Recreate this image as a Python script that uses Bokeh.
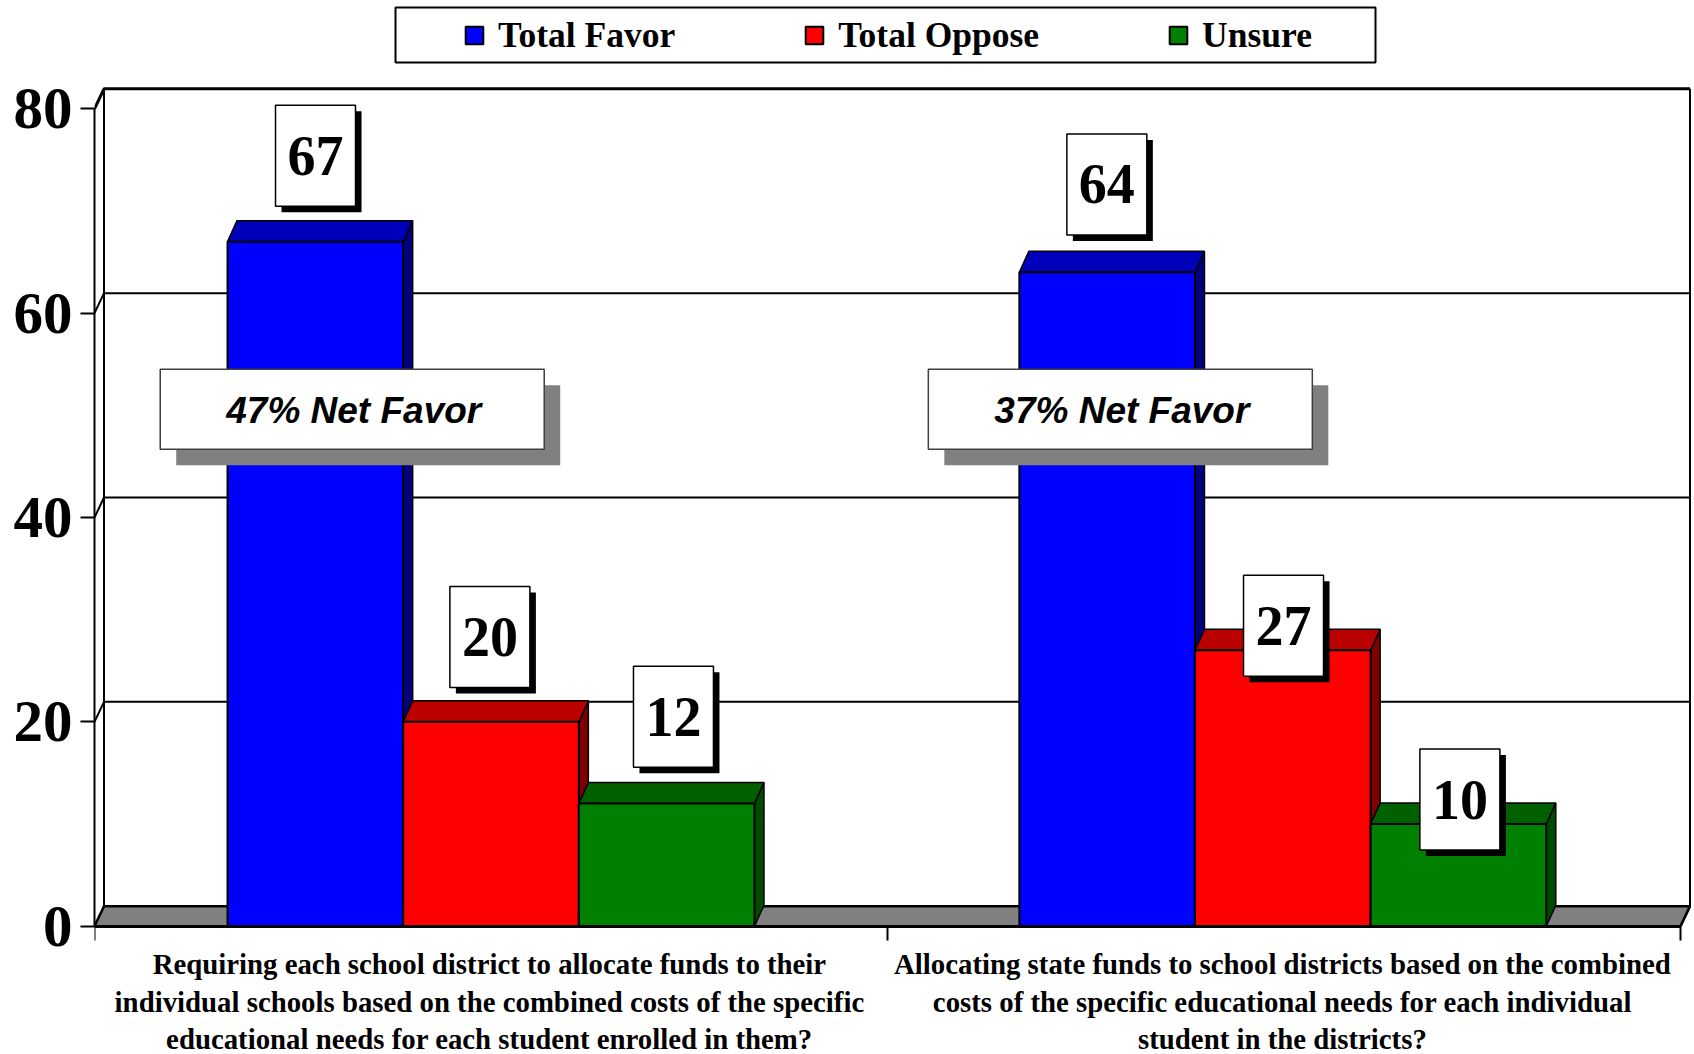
from bokeh.plotting import figure
from bokeh.models import Range1d, FixedTicker, Legend, LegendItem
from bokeh.core.properties import value
from bokeh.embed import file_html
from bokeh.resources import INLINE

# ---- data ----
series_names = ["Total Favor", "Total Oppose", "Unsure"]
total_favor = [67, 64]
total_oppose = [20, 27]
unsure = [12, 10]
y_ticks = [0, 20, 40, 60, 80]
group_centers = [0.5, 1.4985]
category_centers = [0.498, 1.498]
category_lines = [
    ["Requiring each school district to allocate funds to their",
     "individual schools based on the combined costs of the specific",
     "educational needs for each student enrolled in them?"],
    ["Allocating state funds to school districts based on the combined",
     "costs of the specific educational needs for each individual",
     "student in the districts?"],
]
net_labels = ["47% Net Favor", "37% Net Favor"]
value_labels = ["67", "20", "12", "64", "27", "10"]
# label box centres, in axis units
label_x = [0.2787, 0.4986, 0.7301, 1.2766, 1.4994, 1.7218]
label_y = [75.4, 28.3, 20.5, 72.6, 29.4, 12.4]
net_x = [0.325, 1.2936]
net_y = [50.6, 50.6]
net_text_x = [0.3269, 1.2955]

# ---- layout ----
W, H = 1694, 1054
LEFT = 94
PX_X = 793             # pixels per category
PX_Y = 10.2175         # pixels per value unit
ZERO_Y = 925.7         # zero line, figure pixels
dx = 9.5 / PX_X
dy = 20 / PX_Y
bar_dx = 9.5 / PX_X
bar_dy = 21 / PX_Y
bw = 0.2215
sx = 1 / PX_X
sy = 1 / PX_Y

p = figure(width=W, height=H, output_backend="svg", toolbar_location=None,
           x_range=Range1d(0, (W - LEFT) / PX_X),
           y_range=Range1d(-(H - ZERO_Y) / PX_Y, ZERO_Y / PX_Y),
           min_border_left=LEFT, min_border_right=0, min_border_top=0, min_border_bottom=0,
           outline_line_color=None, background_fill_color="white", border_fill_color="white")
p.grid.visible = False

# axes
ya = p.yaxis[0]
ya.ticker = FixedTicker(ticks=y_ticks)
ya.bounds = (0, 80)
ya.axis_line_color = "black"
ya.axis_line_width = 2
ya.major_tick_line_color = "black"
ya.major_tick_line_width = 2
ya.major_tick_out = 14
ya.major_tick_in = 0
ya.minor_tick_line_color = None
ya.major_label_standoff = 8
ya.major_label_text_font = "Liberation Serif"
ya.major_label_text_font_style = "bold"
ya.major_label_text_font_size = "59px"
ya.major_label_text_color = "black"

xa = p.xaxis[0]
xa.ticker = FixedTicker(ticks=[0, 1, 2])
xa.fixed_location = 0
xa.bounds = (0, 2)
xa.axis_line_color = "black"
xa.axis_line_width = 3
xa.major_tick_line_color = "black"
xa.major_tick_line_width = 2
xa.major_tick_out = 14
xa.major_tick_in = 0
xa.minor_tick_line_color = None
xa.major_label_text_color = None
xa.major_label_text_font_size = "1px"

# walls
p.patch([0, dx, 2 + dx, 2], [0, dy, dy, 0], fill_color="#808080", line_color="black", line_width=2.5)
for t in y_ticks[1:]:
    lw = 3 if t == 80 else 2
    p.line([0, dx, 2 + dx], [t, t + dy, t + dy], line_color="black", line_width=lw)
p.line([dx, dx], [dy, 80 + dy], line_color="black", line_width=2)
p.line([2 + dx, 2 + dx], [dy, 80 + dy], line_color="black", line_width=2)
p.line([2, 2 + dx], [0, dy], line_color="black", line_width=2)

# 3-D bars
styles = [("#0000FF", "#0000BB", "#00007F"),
          ("#FF0000", "#BB0000", "#7F0000"),
          ("#008000", "#006000", "#004D00")]
legend_items = []
for i, (name, vals, (front, top, side)) in enumerate(zip(series_names, [total_favor, total_oppose, unsure], styles)):
    xc = [c + (i - 1) * bw for c in group_centers]
    p.patches([[x + bw / 2, x + bw / 2 + bar_dx, x + bw / 2 + bar_dx, x + bw / 2] for x in xc],
              [[0, bar_dy, v + bar_dy, v] for v in vals], fill_color=side, line_color="black", line_width=1.5)
    p.patches([[x - bw / 2, x - bw / 2 + bar_dx, x + bw / 2 + bar_dx, x + bw / 2] for x in xc],
              [[v, v + bar_dy, v + bar_dy, v] for v in vals], fill_color=top, line_color="black", line_width=1.5)
    r = p.vbar(x=xc, top=vals, bottom=0, width=bw, fill_color=front, line_color="black", line_width=2)
    legend_items.append(LegendItem(label=name, renderers=[r]))

# net-favor call-outs
NW, NH = 384, 80
p.rect([x + 16 * sx for x in net_x], [y - 16 * sy for y in net_y], width=NW, height=NH,
       width_units="screen", height_units="screen", fill_color="#808080", line_color=None)
p.rect(net_x, net_y, width=NW, height=NH, width_units="screen", height_units="screen",
       fill_color="white", line_color="#404040", line_width=1.5)
p.text(net_text_x, net_y, text=net_labels, text_font=value("Liberation Sans"), text_font_style="bold italic",
       text_font_size="37px", text_align="center", text_baseline="alphabetic", y_offset=1, text_color="black")

# value call-outs
BW, BH = 80, 101
p.rect([x + 6 * sx for x in label_x], [y - 6 * sy for y in label_y], width=BW, height=BH,
       width_units="screen", height_units="screen", fill_color="black", line_color=None)
p.rect(label_x, label_y, width=BW, height=BH, width_units="screen", height_units="screen",
       fill_color="white", line_color="black", line_width=1.5)
p.text(label_x, label_y, text=value_labels, text_font=value("Liberation Serif"), text_font_style="bold",
       text_font_size="56px", text_align="center", text_baseline="alphabetic", y_offset=0, text_color="black")

# category labels
for c, lines in zip(category_centers, category_lines):
    for line, off in zip(lines, [38, 75.7, 112.7]):
        p.text([c], [0], text=[line], text_font=value("Liberation Serif"), text_font_style="bold",
               text_font_size="28.8px", text_align="center", text_baseline="alphabetic",
               y_offset=off, text_color="black")

# legend box + legend
LX0, LX1, LY0, LY1 = 395, 1375, 7, 62
p.quad(left=[(LX0 - LEFT) * sx], right=[(LX1 - LEFT) * sx],
       top=[(ZERO_Y - LY0) * sy], bottom=[(ZERO_Y - LY1) * sy],
       fill_color="white", line_color="black", line_width=2)
leg = Legend(items=legend_items, orientation="horizontal", location=(369, H - 56),
             spacing=128, glyph_width=22, glyph_height=22, label_standoff=13, padding=0, margin=0,
             border_line_color=None, background_fill_alpha=0,
             label_text_font="Liberation Serif", label_text_font_style="bold",
             label_text_font_size="35.5px", label_text_color="black")
p.add_layout(leg, "center")

open("out.html", "w").write(file_html(p, INLINE))
